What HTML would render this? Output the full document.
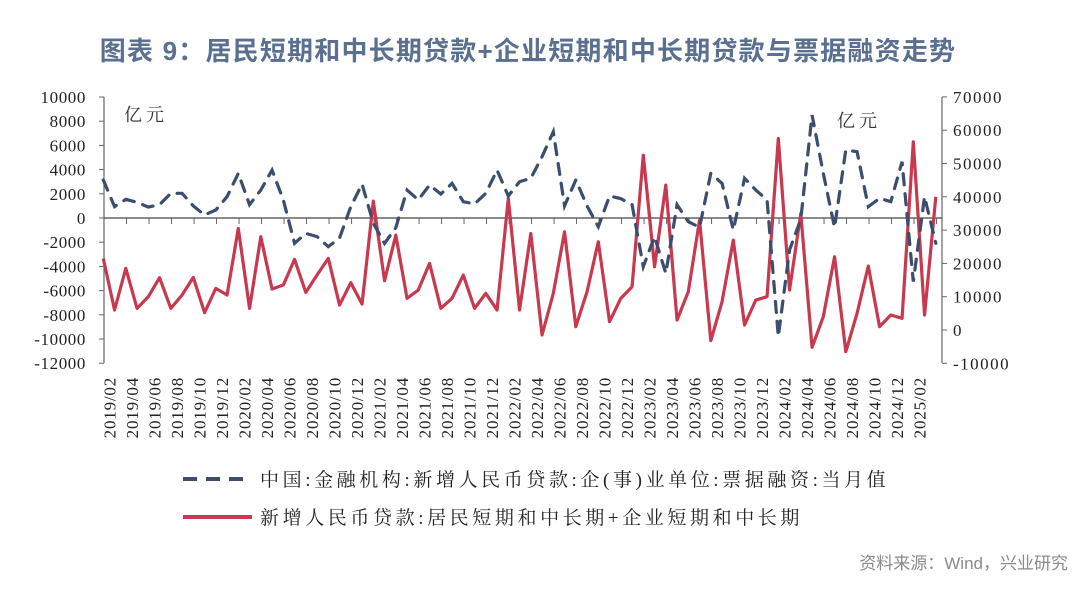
<!DOCTYPE html>
<html><head><meta charset="utf-8"><style>
body{margin:0;background:#fff;}
svg text{font-family:"Liberation Serif","Noto Serif CJK SC",serif;}
</style></head><body>
<svg width="1080" height="594" viewBox="0 0 1080 594" xmlns="http://www.w3.org/2000/svg">
<text x="528" y="60" text-anchor="middle" font-size="26" font-weight="bold" fill="#5b7090" letter-spacing="1.2" style="font-family:'Liberation Sans','Noto Sans CJK SC',sans-serif">图表 9：居民短期和中长期贷款+企业短期和中长期贷款与票据融资走势</text>
<g id="axes"></g>
<g id="series"></g>
<text x="124" y="121" font-size="18" fill="#333" letter-spacing="4">亿元</text>
<text x="837" y="127" font-size="18" fill="#333" letter-spacing="4">亿元</text>
<g>
<line x1="183" y1="479" x2="252" y2="479" stroke="#3b4e6e" stroke-width="4" stroke-dasharray="14,9"/>
<text x="260" y="486" font-size="19" fill="#222" letter-spacing="3.6">中国:金融机构:新增人民币贷款:企(事)业单位:票据融资:当月值</text>
<line x1="183" y1="517" x2="252" y2="517" stroke="#c8394f" stroke-width="4"/>
<text x="260" y="524" font-size="19" fill="#222" letter-spacing="3.6">新增人民币贷款:居民短期和中长期+企业短期和中长期</text>
</g>
<text x="1068" y="569" text-anchor="end" font-size="17" fill="#8a8a8a" style="font-family:'Liberation Sans','Noto Sans CJK SC',sans-serif">资料来源：Wind，兴业研究</text>
</svg>
<script>
const startYear = 2019, startMonth = 2;
const billsValues = [3140,940,1540,1300,900,1100,2040,2040,1000,250,660,1760,3690,1100,2310,3960,1500,-2090,-1270,-1540,-2370,-1650,940,2800,-440,-2100,-800,2310,1500,2730,1980,2860,1350,1160,2040,3960,1820,3000,3280,5070,7130,1000,3140,1000,-720,1820,1600,1100,-4020,-1540,-4570,1100,-300,-770,3690,2860,-990,3280,2310,1500,-9800,-2640,-100,8510,3690,-780,5620,5480,930,1630,1350,4650,-5260,1760,-2090];
const loanValues = [21500,6000,18500,6500,10000,15700,6500,10500,15800,5200,12500,10500,30500,6500,28000,12300,13500,21200,11300,16500,21500,7500,14200,7800,38700,14800,28500,9500,12000,20000,6500,9500,16500,6500,11000,6000,39500,6000,29000,-1500,11000,29500,1000,11500,26500,2500,9500,13000,52500,19000,43500,3000,11500,33000,-3200,8500,27000,1500,9000,10000,57500,12000,35000,-5200,4000,22000,-6500,5000,19200,1000,4500,3500,56500,4500,40000];
const leftTicks = [10000,8000,6000,4000,2000,0,-2000,-4000,-6000,-8000,-10000,-12000];
const rightTicks = [70000,60000,50000,40000,30000,20000,10000,0,-10000];
const NS="http://www.w3.org/2000/svg";
const X0=103.3, DX=11.25, PL=104, PR=942, PT=97, PB=363;
const xAt=i=>X0+i*DX;
const yL=v=>218-(v/10000)*121;
const yR=v=>330-(v/10000)*33.3;
const axes=document.getElementById('axes'), series=document.getElementById('series');
function mk(tag,attrs,parent){const e=document.createElementNS(NS,tag);for(const k in attrs)e.setAttribute(k,attrs[k]);parent.appendChild(e);return e;}
let e=mk('line',{x1:PL,y1:PT,x2:PL,y2:PB,stroke:'#666','stroke-width':1.2},axes);


e=mk('line',{x1:PR,y1:PT,x2:PR,y2:PB,stroke:'#666','stroke-width':1.2},axes);


e=mk('line',{x1:PL,y1:yL(0),x2:PR,y2:yL(0),stroke:'#444','stroke-width':1.2},axes);


leftTicks.forEach(v=>{const y=yL(v);
 mk('line',{x1:PL-5,y1:y,x2:PL,y2:y,stroke:'#666'},axes);
 const t=mk('text',{x:86,y:y+6,'text-anchor':'end','font-size':17,fill:'#222','letter-spacing':0.6},axes);t.textContent=v;
 
 
});
rightTicks.forEach(v=>{const y=yR(v);
 mk('line',{x1:PR,y1:y,x2:PR+5,y2:y,stroke:'#666'},axes);
 const t=mk('text',{x:953,y:y+6,'font-size':17,fill:'#222','letter-spacing':1.5},axes);t.textContent=v;
 
 
});
for(let i=0;i<loanValues.length;i++){
 const m0=startMonth-1+i, yr=startYear+Math.floor(m0/12), mo=m0%12+1;
 const cx=xAt(i)+6;
 if(i%2===1 && i<loanValues.length-1) mk('line',{x1:xAt(i)+12,y1:218,x2:xAt(i)+12,y2:224,stroke:'#666'},axes);
 if(i%2===0 && i<=72){
  const t=mk('text',{x:0,y:0,'text-anchor':'end','font-size':17,fill:'#222','letter-spacing':0.8,transform:`translate(${cx+6},377) rotate(-90)`},axes);
  t.textContent=yr+'/'+String(mo).padStart(2,'0');
  
  
 }
}
let p=mk('polyline',{points:loanValues.map((v,i)=>xAt(i)+','+yR(v)).join(' '),fill:'none',stroke:'#c8394f','stroke-width':3.2,'stroke-linejoin':'round'},series);


p=mk('polyline',{points:billsValues.map((v,i)=>xAt(i)+','+yL(v)).join(' '),fill:'none',stroke:'#3b4e6e','stroke-width':3.2,'stroke-dasharray':'11,9','stroke-linecap':'round'},series);


</script>
</body></html>
